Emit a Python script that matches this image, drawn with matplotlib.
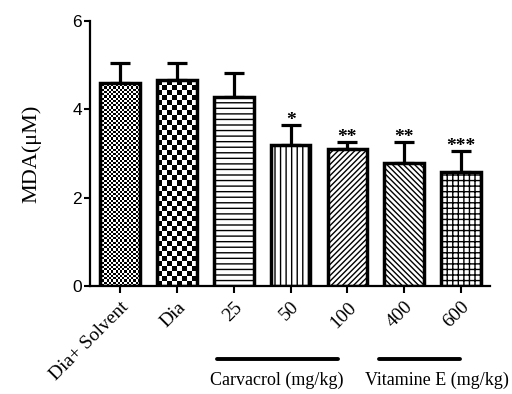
import numpy as np
import matplotlib
matplotlib.use('Agg')
import matplotlib.pyplot as plt
import matplotlib.transforms as mtransforms

groups = ['Dia+ Solvent', 'Dia', '25', '50', '100', '400', '600']
means = [4.60, 4.66, 4.28, 3.19, 3.10, 2.78, 2.58]
errs = [0.45, 0.39, 0.54, 0.46, 0.16, 0.48, 0.48]
stars = ['', '', '', '*', '**', '**', '***']
hatches = [None, None, '---', '|||', '//////', '\\\\\\\\\\\\', '+++']
checker_cells = {0: (18, 0.05), 1: (8, 0.113)}   # bar index -> (columns, cell height)
bracket_labels = ['Carvacrol (mg/kg)', 'Vitamine E (mg/kg)']
bracket_spans = [(1.71, 3.84), (4.56, 5.99)]
bracket_label_x = [2.76, 5.58]

SERIF = 'Liberation Serif'
SANS = 'Liberation Sans'
plt.rcParams['hatch.linewidth'] = 1.0
plt.rcParams['hatch.color'] = 'black'

fig = plt.figure(figsize=(5.12, 3.94), dpi=100)
ax = fig.add_axes([0.176, 0.274, 0.781, 0.673])

x = np.arange(len(groups))
W = 0.7
bars = ax.bar(x, means, width=W, color='white', edgecolor='black', linewidth=0, zorder=2)
for b, h in zip(bars, hatches):
    if h:
        b.set_hatch(h)

# checkerboard fills for the first two bars
for i, (ncols, cell_h) in checker_cells.items():
    b = bars[i]
    x0, w, h = b.get_x(), b.get_width(), b.get_height()
    nrows = int(round(h / cell_h))
    grid = np.add.outer(np.arange(nrows), np.arange(ncols)) % 2
    im = ax.imshow(grid, cmap='gray', extent=(x0, x0 + w, 0, h), aspect='auto',
                   interpolation='nearest', zorder=2.2)
    im.set_clip_path(b)

ax.bar(x, means, width=W, fill=False, edgecolor='black', linewidth=2.5, zorder=3)
ax.errorbar(x, means, yerr=[np.zeros(len(means)), errs], fmt='none', ecolor='black',
            elinewidth=2.3, capsize=7.5, capthick=2.3, zorder=1.5)

for xi, m, e, s in zip(x, means, errs, stars):
    if s:
        ax.annotate(s, (xi, m + e), xytext=(0, -3), textcoords='offset points',
                    ha='center', va='bottom', fontsize=14, fontweight='bold', family=SERIF)

ax.set_xlim(-0.53, 6.51)
ax.set_ylim(0, 6)
ax.set_yticks([0, 2, 4, 6])
ax.set_yticklabels(['0', '2', '4', '6'], fontsize=12.5, family=SANS)
ax.set_xticks(x)
ax.set_xticklabels(groups, rotation=45, ha='right', rotation_mode='anchor',
                   fontsize=14, family=SERIF)
ax.tick_params(axis='x', direction='out', length=5, width=1.5, pad=4)
ax.tick_params(axis='y', direction='out', length=4, width=1.5, pad=2)
for side in ['top', 'right']:
    ax.spines[side].set_visible(False)
for side in ['left', 'bottom']:
    ax.spines[side].set_linewidth(1.6)
ax.set_ylabel('MDA(\u03bcM)', fontsize=16, family=SERIF, labelpad=22)

trans = mtransforms.blended_transform_factory(ax.transData, ax.transAxes)
for label, (x_start, x_end), lx in zip(bracket_labels, bracket_spans, bracket_label_x):
    ax.plot([x_start, x_end], [-0.275, -0.275], color='black', lw=2.8,
            transform=trans, clip_on=False, solid_capstyle='round')
    ax.text(lx, -0.355, label, transform=trans, ha='center',
            va='center', fontsize=13, family=SERIF)

fig.savefig('out.png', dpi=100)
